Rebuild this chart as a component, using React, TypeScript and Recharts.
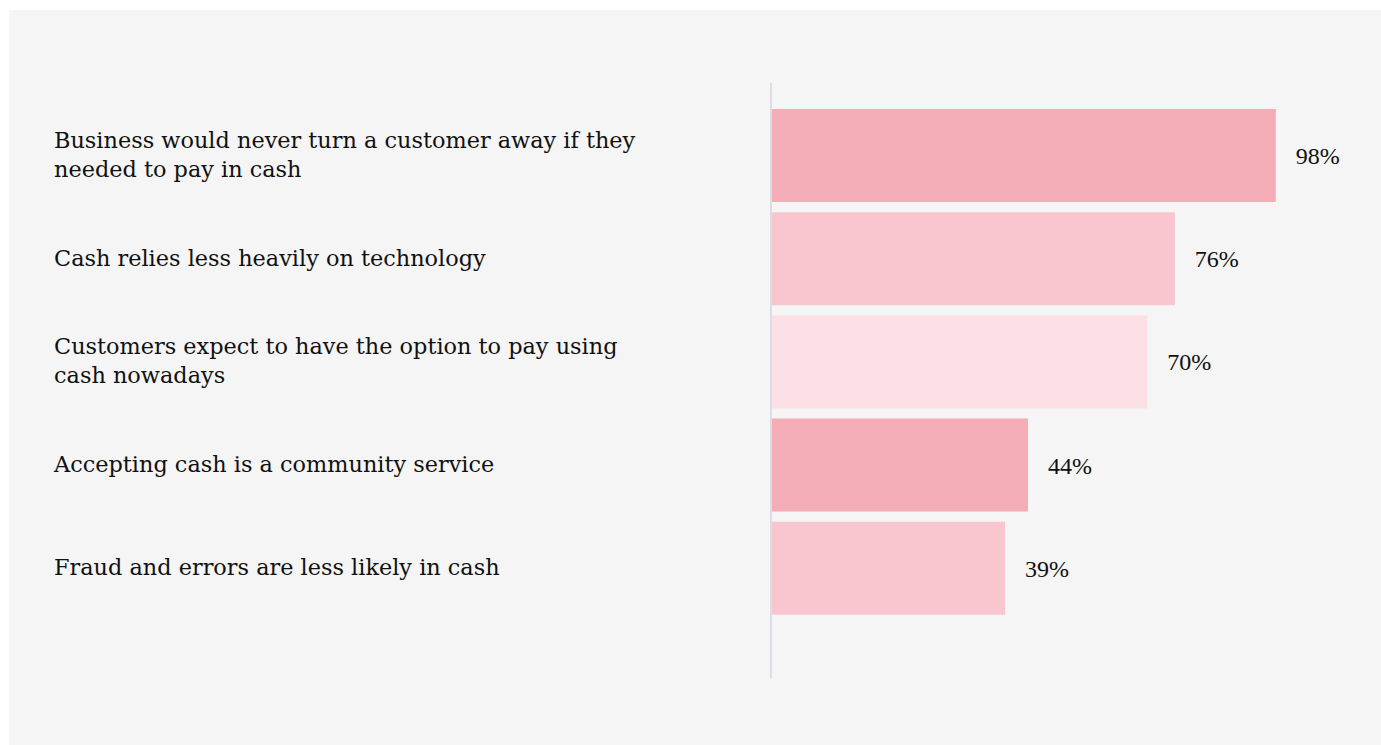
import React from 'react';
import { BarChart, Bar, XAxis, YAxis, Cell, LabelList } from 'recharts';

const categories = [
  'Business would never turn a customer away if they needed to pay in cash',
  'Cash relies less heavily on technology',
  'Customers expect to have the option to pay using cash nowadays',
  'Accepting cash is a community service',
  'Fraud and errors are less likely in cash',
];
const values = [98, 76, 70, 44, 39];
const barColors = ['#f4acb7', '#f9c6cf', '#fde0e5', '#f4acb7', '#f9c6cf'];

// axis doesn't start at zero in the original
const AXIS_MIN = -12;
const AXIS_MAX = 100;

const data = categories.map((name, i) => ({ name, value: values[i], range: [AXIS_MIN, values[i]] }));

const LABEL_X = 45;
const LINE_H = 29;
const MAX_CHARS = 50;

// naive word wrap by character count
const wrap = (s: string) => {
  const lines: string[] = [];
  let cur = '';
  s.split(' ').forEach(w => {
    const next = cur ? cur + ' ' + w : w;
    if (next.length > MAX_CHARS && cur) {
      lines.push(cur);
      cur = w;
    } else {
      cur = next;
    }
  });
  if (cur) lines.push(cur);
  return lines;
};

const CategoryTick = (props: any) => {
  const { y, payload } = props;
  const lines = wrap(String(payload.value));
  const startY = y - ((lines.length - 1) * LINE_H) / 2;
  return (
    <text
      x={LABEL_X}
      y={startY}
      fill="#111"
      fontSize={22.4}
      fontFamily="'DejaVu Serif', serif"
      textAnchor="start"
    >
      {lines.map((l, i) => (
        <tspan key={i} x={LABEL_X} y={startY + i * LINE_H} dy="0.3em">
          {l}
        </tspan>
      ))}
    </text>
  );
};

const App: React.FC = () => {
  return (
    <div style={{ position: 'fixed', left: 9, top: 10, width: 1372, height: 735, background: '#f5f5f5' }}>
      <BarChart
        width={1372}
        height={735}
        data={data}
        layout="vertical"
        margin={{ top: 73, right: 96, bottom: 67, left: 0 }}
      >
        <XAxis type="number" hide domain={[AXIS_MIN, AXIS_MAX]} allowDataOverflow />
        <YAxis
          type="category"
          dataKey="name"
          width={762}
          axisLine={{ stroke: '#dcdce4', strokeWidth: 2 }}
          tickLine={false}
          padding={{ top: 21, bottom: 58 }}
          tick={<CategoryTick />}
          interval={0}
        />
        <Bar dataKey="range" barSize={93} isAnimationActive={false}>
          {data.map((d, i) => (
            <Cell key={`bar-${i}`} fill={barColors[i]} />
          ))}
          <LabelList
            dataKey="value"
            position="right"
            offset={20}
            formatter={(v: any) => `${v}%`}
            fill="#111"
            fontSize={24}
            fontFamily="'Liberation Serif', serif"
          />
        </Bar>
      </BarChart>
    </div>
  );
};

export default App;
